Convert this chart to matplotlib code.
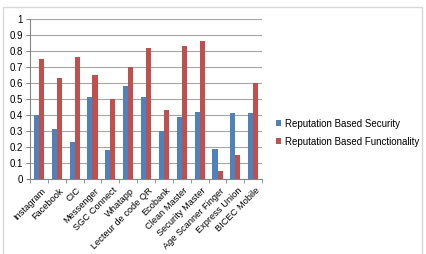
import numpy as np
import matplotlib
matplotlib.use("Agg")
import matplotlib.pyplot as plt
from matplotlib.patches import Rectangle

apps = ["Instagram", "Facebook", "CIC", "Messenger", "SGC Connect", "Whatapp",
        "Lecteur de code QR", "Ecobank", "Clean Master", "Security Master",
        "Age Scanner Finger", "Express Union", "BICEC Mobile"]
security = [0.40, 0.31, 0.23, 0.51, 0.18, 0.58, 0.51, 0.30, 0.39, 0.42, 0.19, 0.41, 0.41]
functionality = [0.75, 0.63, 0.76, 0.65, 0.50, 0.70, 0.82, 0.43, 0.83, 0.86, 0.05, 0.15, 0.60]
yticks = [0, 0.1, 0.2, 0.3, 0.4, 0.5, 0.6, 0.7, 0.8, 0.9, 1]

plt.rcParams["font.family"] = ["Liberation Sans", "DejaVu Sans"]

fig = plt.figure(figsize=(4.26, 2.54), dpi=100)
fig.patches.append(Rectangle((0.006, -0.02), 0.985, 0.992, transform=fig.transFigure,
                             fill=False, edgecolor="#d9d9d9", linewidth=1))
ax = fig.add_axes([0.0704, 0.295, 0.545, 0.63])

x = np.arange(len(apps))
w = 1 / 3.5
ax.bar(x - w / 2, security, w, color="#4F81BD", label="Reputation Based Security", zorder=3)
ax.bar(x + w / 2, functionality, w, color="#C0504D", label="Reputation Based Functionality", zorder=3)

ax.set_xlim(-0.5, len(apps) - 0.5)
ax.set_ylim(0, 1)
ax.set_yticks(yticks)
ax.set_yticklabels([("%g" % v) for v in yticks], fontsize=7)
ax.yaxis.grid(True, color="#a6a6a6", linewidth=0.8, zorder=0)
ax.set_xticks(x + 0.1)
ax.set_xticklabels(apps, rotation=45, ha="right", rotation_mode="anchor", fontsize=6.7)
ax.set_xticks(np.arange(-0.5, len(apps)), minor=True)
ax.tick_params(axis="x", which="major", length=0, pad=5)
ax.tick_params(axis="x", which="minor", length=3, color="#868686")
ax.tick_params(axis="y", length=3, color="#868686", pad=2)
for s in ["top", "right"]:
    ax.spines[s].set_visible(False)
for s in ["left", "bottom"]:
    ax.spines[s].set_color("#868686")

ax.legend(loc="center left", bbox_to_anchor=(1.02, 0.29), frameon=False, fontsize=7,
          handlelength=0.6, handleheight=0.6, handletextpad=0.4, labelspacing=0.85)

fig.savefig("out.png", dpi=100)
